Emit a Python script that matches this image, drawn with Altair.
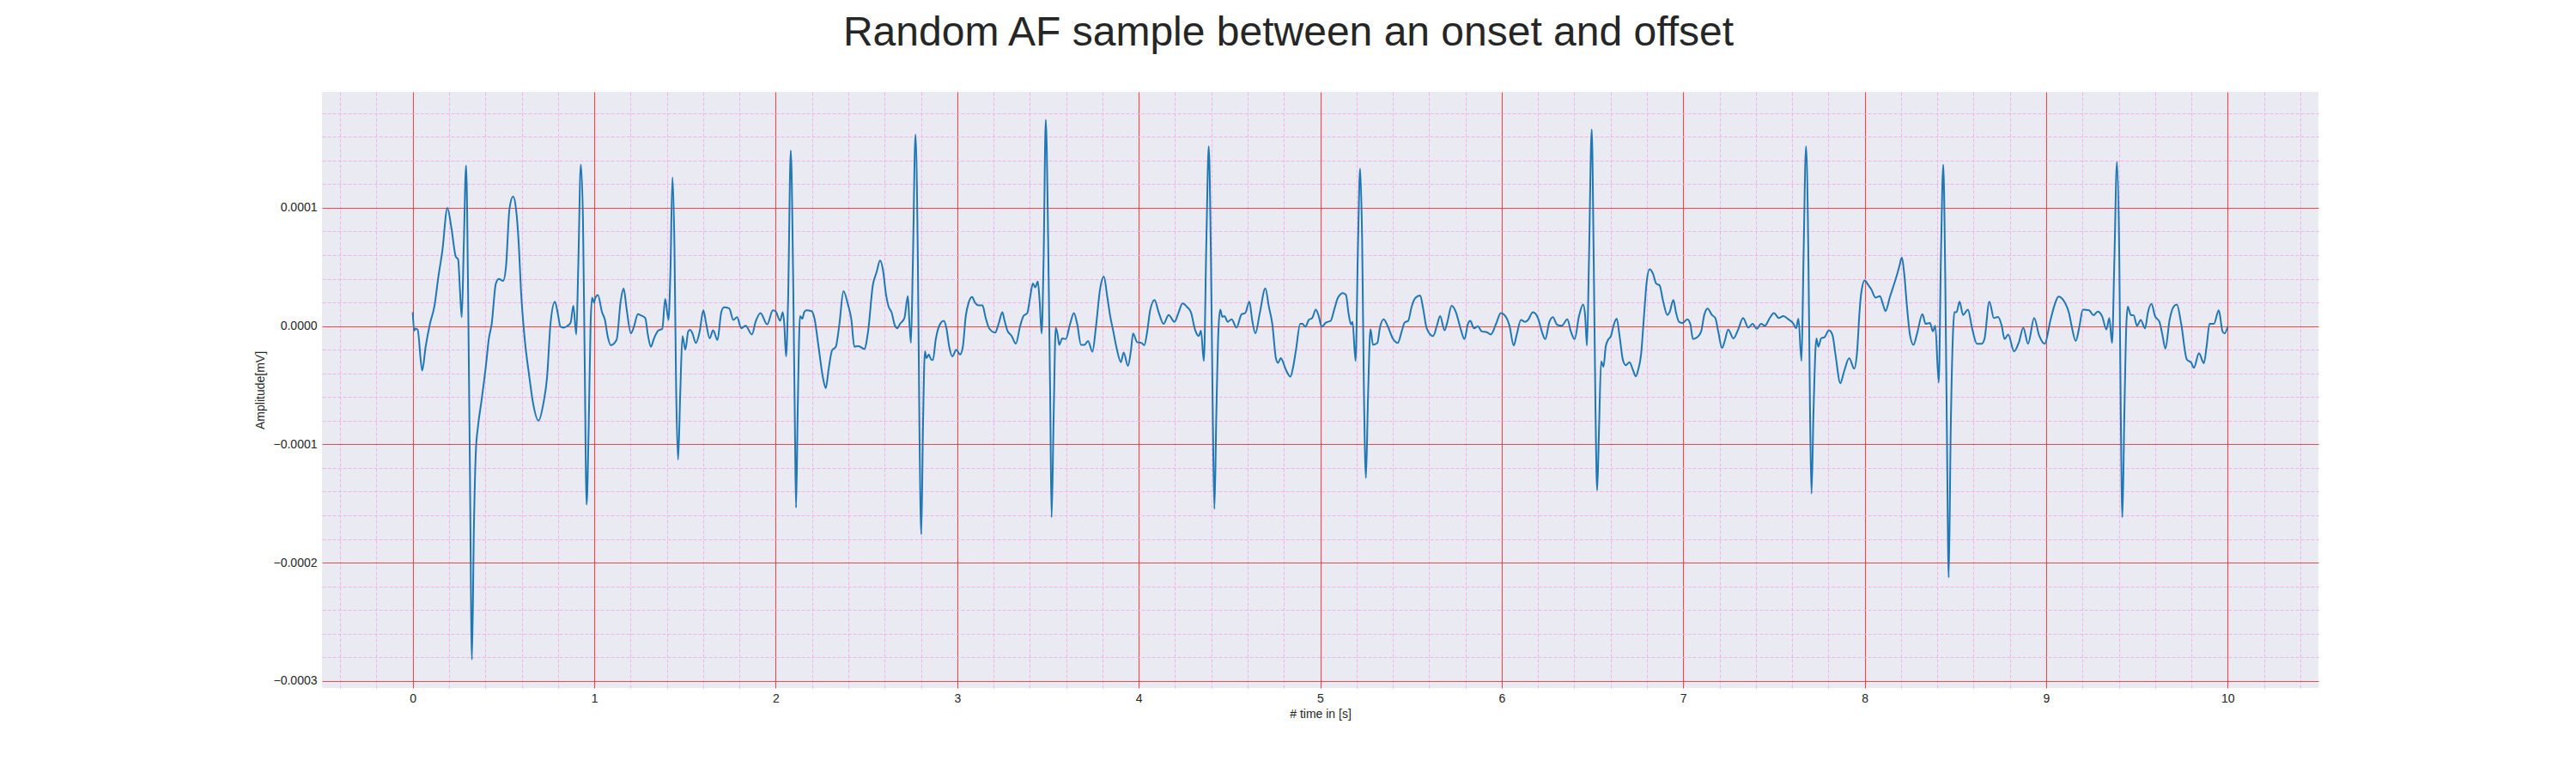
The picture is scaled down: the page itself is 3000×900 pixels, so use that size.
import altair as alt
import pandas as pd

# (time [s], amplitude in units of 1e-5 mV), two seconds per list
seg_0_2 = [
    (0.0, 1.17), (0.008, -0.39), (0.016, -0.2), (0.027, -0.3), (0.052, -3.76), (0.071, -1.75),
    (0.095, 0.2), (0.119, 1.65), (0.142, 4.25), (0.163, 6.35), (0.191, 10.0), (0.213, 8.3),
    (0.237, 5.87), (0.25, 5.64), (0.261, 2.79), (0.27, 0.75), (0.281, 6.68), (0.294, 13.58),
    (0.305, 2.8), (0.315, -12.1), (0.326, -28.2), (0.337, -17.0), (0.348, -10.5), (0.359, -8.56),
    (0.379, -6.29), (0.403, -3.37), (0.419, -1.1), (0.435, 0.19), (0.458, 3.6), (0.474, 3.99),
    (0.498, 3.82), (0.514, 5.06), (0.533, 9.92), (0.553, 10.96), (0.569, 9.92), (0.585, 6.68),
    (0.596, 3.11), (0.617, -1.1), (0.64, -4.02), (0.664, -6.61), (0.693, -8.0), (0.719, -6.61),
    (0.74, -4.34), (0.759, 0.19), (0.783, 2.07), (0.798, 1.17), (0.814, -0.06), (0.83, -0.13),
    (0.854, 0.03), (0.87, 0.29), (0.885, 1.72), (0.901, -0.71), (0.912, 5.06), (0.926, 13.65),
    (0.938, 8.95), (0.947, -2.4), (0.958, -15.1), (0.969, -8.88), (0.98, 0.19), (0.988, 2.4),
    (0.999, 1.98), (1.004, 2.3), (1.02, 2.63), (1.043, 1.17), (1.059, 0.52), (1.075, -0.94),
    (1.091, -1.62), (1.123, -1.17), (1.146, 2.14), (1.162, 3.18), (1.178, 1.49), (1.202, -0.62),
    (1.217, -0.13), (1.241, 1.0), (1.257, 0.91), (1.281, 0.68), (1.296, -0.78), (1.312, -1.75),
    (1.328, -1.1), (1.352, -0.39), (1.375, -0.23), (1.391, 2.3), (1.409, 0.52), (1.42, 4.73),
    (1.431, 12.58), (1.442, 6.68), (1.451, -4.99), (1.462, -11.3), (1.474, -5.64), (1.486, -0.84),
    (1.502, -2.0), (1.518, -0.45), (1.529, -0.32), (1.541, -0.62), (1.56, -1.43), (1.581, -0.45),
    (1.601, 1.33), (1.617, 0.19), (1.636, -1.04), (1.655, -0.36), (1.679, -1.17), (1.7, 1.17),
    (1.715, 1.59), (1.744, 1.49), (1.766, 0.52), (1.787, 0.75), (1.81, -0.19), (1.834, 0.03),
    (1.869, -0.71), (1.889, 0.36), (1.916, 1.1), (1.953, 0.13), (1.984, 1.33),
]
seg_2_4 = [
    (2.0, 1.23), (2.024, 0.45), (2.039, 1.17), (2.047, 0.2), (2.057, -2.56), (2.068, 2.14),
    (2.083, 14.85), (2.096, 4.08), (2.106, -8.88), (2.112, -15.36), (2.121, -7.26), (2.134, 0.84),
    (2.146, 0.62), (2.157, 1.17), (2.169, 1.33), (2.197, 1.26), (2.213, 0.68), (2.236, -1.75),
    (2.26, -4.34), (2.276, -5.25), (2.291, -3.7), (2.31, -2.07), (2.331, -1.75), (2.351, 0.19),
    (2.373, 2.95), (2.398, 1.82), (2.417, 0.52), (2.433, -1.75), (2.457, -1.69), (2.488, -1.94),
    (2.509, -0.45), (2.535, 3.44), (2.556, 4.57), (2.575, 5.54), (2.591, 4.73), (2.608, 2.63),
    (2.622, 1.65), (2.638, 1.17), (2.657, 0.03), (2.669, -0.19), (2.685, 0.19), (2.709, 0.68),
    (2.728, 2.53), (2.737, 0.19), (2.745, -1.43), (2.756, 5.7), (2.77, 16.2), (2.783, 5.7),
    (2.792, -8.88), (2.802, -17.6), (2.811, -8.88), (2.822, -2.14), (2.831, -2.72), (2.843, -2.4),
    (2.855, -2.79), (2.866, -2.88), (2.882, -1.1), (2.901, 0.03), (2.926, 0.45), (2.94, -0.13),
    (2.956, -1.75), (2.973, -2.56), (2.995, -2.0), (3.016, -2.4), (3.031, -1.75), (3.047, 0.84),
    (3.063, 1.98), (3.082, 2.46), (3.098, 1.98), (3.118, 1.75), (3.139, 1.75), (3.157, 0.68),
    (3.176, -0.19), (3.209, -0.55), (3.228, 0.19), (3.249, 1.17), (3.26, 0.52), (3.276, -0.36),
    (3.3, -0.84), (3.323, -1.49), (3.347, 0.03), (3.365, 0.84), (3.386, 1.1), (3.402, 2.46),
    (3.417, 3.6), (3.43, 3.27), (3.444, 3.76), (3.454, 2.14), (3.465, -0.62), (3.476, 5.7),
    (3.488, 17.44), (3.501, 7.33), (3.512, -5.64), (3.52, -16.17), (3.531, -7.9), (3.543, -0.13),
    (3.554, -0.78), (3.562, -1.59), (3.579, -1.04), (3.598, -1.1), (3.622, 0.19), (3.643, 1.1),
    (3.661, 0.19), (3.682, -1.59), (3.701, -1.59), (3.721, -1.26), (3.745, -2.17), (3.764, -0.13),
    (3.787, 3.11), (3.808, 4.18), (3.827, 2.46), (3.843, 0.84), (3.858, -0.29), (3.879, -1.91),
    (3.902, -3.05), (3.917, -2.24), (3.941, -3.37), (3.957, -2.07), (3.969, -0.62), (3.991, -1.36),
]
seg_4_6 = [
    (4.016, -1.43), (4.031, -1.62), (4.047, -0.45), (4.063, 1.33), (4.087, 2.2), (4.11, 1.17),
    (4.137, 0.19), (4.165, 0.94), (4.197, 0.36), (4.22, 1.17), (4.241, 1.91), (4.268, 1.59),
    (4.288, 1.17), (4.31, -0.29), (4.331, -0.84), (4.343, -0.39), (4.359, -2.95), (4.373, 7.33),
    (4.386, 15.2), (4.398, 5.7), (4.408, -7.26), (4.417, -15.46), (4.428, -7.26), (4.439, -0.45),
    (4.449, 1.39), (4.461, 0.78), (4.472, 0.84), (4.491, 0.36), (4.512, 0.58), (4.539, -0.13),
    (4.567, 1.0), (4.587, 1.1), (4.61, 2.07), (4.625, 0.52), (4.643, -0.62), (4.666, 1.0),
    (4.698, 3.18), (4.717, 1.65), (4.736, 0.19), (4.756, -2.72), (4.767, -3.11), (4.783, -2.72),
    (4.811, -3.7), (4.836, -4.28), (4.85, -3.53), (4.866, -2.07), (4.89, 0.19), (4.902, 0.19),
    (4.918, -0.06), (4.937, 0.52), (4.956, 0.68), (4.976, 1.39), (4.992, 0.84), (5.008, -0.06),
    (5.031, 0.29), (5.058, 0.45), (5.079, 1.49), (5.098, 2.4), (5.126, 2.79), (5.142, 2.63),
    (5.157, 1.0), (5.17, 0.13), (5.178, 0.36), (5.195, -2.95), (5.208, 6.68), (5.22, 13.32),
    (5.231, 7.33), (5.241, -5.64), (5.252, -12.84), (5.263, -6.29), (5.277, -0.26), (5.291, -1.59),
    (5.315, -1.43), (5.329, -0.13), (5.35, 0.58), (5.371, 0.03), (5.402, -1.1), (5.428, -1.43),
    (5.449, -0.45), (5.465, 0.29), (5.485, 0.45), (5.504, 1.65), (5.524, 2.37), (5.551, 2.59),
    (5.567, 1.49), (5.587, -0.19), (5.622, -0.84), (5.643, 0.03), (5.661, 0.84), (5.685, -0.36),
    (5.701, 0.36), (5.724, 1.72), (5.748, 1.17), (5.772, -0.13), (5.795, -1.1), (5.814, 0.19),
    (5.827, 0.45), (5.847, -0.19), (5.869, -0.03), (5.89, -0.45), (5.918, -0.52), (5.94, -0.71),
    (5.969, 0.19), (5.995, 1.1),
]
seg_6_8 = [
    (6.027, 0.68), (6.043, 0.03), (6.066, -1.65), (6.082, -0.78), (6.106, 0.52), (6.129, 0.36),
    (6.145, 0.52), (6.172, 1.17), (6.2, 0.68), (6.221, -0.45), (6.24, -1.1), (6.263, 0.36),
    (6.282, 0.75), (6.306, 0.1), (6.331, 0.03), (6.362, 0.58), (6.381, -0.45), (6.402, -1.1),
    (6.426, 0.84), (6.449, 1.82), (6.46, 0.84), (6.47, -1.65), (6.481, 5.7), (6.496, 16.63),
    (6.507, 5.7), (6.517, -7.26), (6.526, -13.9), (6.536, -8.88), (6.548, -2.98), (6.561, -3.44),
    (6.573, -1.75), (6.586, -1.17), (6.602, -0.84), (6.618, 0.13), (6.634, 0.62), (6.649, -0.78),
    (6.668, -2.88), (6.684, -3.31), (6.704, -3.05), (6.723, -3.7), (6.739, -4.25), (6.752, -3.7),
    (6.768, -2.4), (6.784, 0.84), (6.799, 3.76), (6.815, 4.8), (6.834, 4.41), (6.851, 3.6),
    (6.87, 3.44), (6.889, 2.14), (6.913, 0.94), (6.925, 1.17), (6.946, 2.2), (6.96, 1.17),
    (6.977, 0.36), (6.996, 0.26), (7.023, 0.58), (7.039, 0.19), (7.054, -1.1), (7.078, -0.94),
    (7.099, -0.45), (7.117, 1.0), (7.135, 1.49), (7.158, 0.94), (7.177, 0.68), (7.193, -0.45),
    (7.214, -1.85), (7.229, -1.26), (7.248, -0.29), (7.277, -1.04), (7.303, -0.29), (7.33, 0.68),
    (7.359, -0.13), (7.382, 0.19), (7.406, -0.23), (7.429, 0.19), (7.45, 0.03), (7.477, 0.68),
    (7.5, 1.1), (7.527, 0.68), (7.552, 0.84), (7.579, 0.58), (7.608, 0.19), (7.622, -0.19),
    (7.635, 0.62), (7.652, -2.95), (7.663, 5.7), (7.677, 15.2), (7.69, 5.7), (7.699, -7.26),
    (7.707, -14.17), (7.718, -7.26), (7.734, -1.04), (7.745, -1.75), (7.76, -1.04), (7.779, -0.94),
    (7.803, -0.36), (7.823, -0.78), (7.839, -2.4), (7.866, -4.83), (7.886, -3.86), (7.915, -2.72),
    (7.942, -3.6), (7.957, -2.4), (7.973, 1.49),
]
seg_8_10 = [
    (7.981, 2.79), (8.0, 3.86), (8.021, 3.44), (8.036, 3.11), (8.06, 2.4), (8.084, 2.53),
    (8.1, 1.88), (8.115, 1.26), (8.139, 2.46), (8.175, 4.18), (8.191, 5.06), (8.205, 5.8),
    (8.218, 4.41), (8.234, 1.49), (8.25, -0.78), (8.269, -1.59), (8.289, -0.62), (8.318, 1.0),
    (8.336, 0.19), (8.36, 0.26), (8.376, -0.45), (8.389, 0.03), (8.408, -4.77), (8.42, 5.7),
    (8.433, 13.65), (8.444, 4.08), (8.453, -8.88), (8.463, -21.26), (8.474, -8.88), (8.487, -0.45),
    (8.494, 1.17), (8.506, 1.17), (8.523, 2.07), (8.542, 0.94), (8.569, 1.39), (8.592, -0.19),
    (8.618, -1.49), (8.645, -1.49), (8.66, -1.1), (8.687, 2.07), (8.712, 0.68), (8.735, 0.78),
    (8.755, 0.03), (8.771, -1.1), (8.791, -0.71), (8.823, -2.14), (8.85, -1.36), (8.874, -0.13),
    (8.9, -1.49), (8.934, 0.68), (8.961, -0.78), (8.992, -1.49), (9.024, 0.52), (9.047, 1.82),
    (9.068, 2.5), (9.103, 1.98), (9.126, 1.1), (9.142, -0.13), (9.163, -1.26), (9.182, -0.13),
    (9.202, 1.39), (9.237, 1.33), (9.261, 0.91), (9.284, 1.23), (9.308, 0.84), (9.332, -0.29),
    (9.348, 0.68), (9.363, -1.43), (9.376, 5.7), (9.39, 13.87), (9.403, 5.7), (9.411, -7.26),
    (9.42, -16.17), (9.431, -7.26), (9.442, 0.19), (9.45, 1.65), (9.466, 0.94), (9.482, 0.91),
    (9.501, 0.03), (9.521, 0.52), (9.545, -0.19), (9.561, 1.17), (9.58, 1.88), (9.6, 0.84),
    (9.624, 0.36), (9.641, -0.78), (9.657, -1.91), (9.68, 0.52), (9.703, 1.65), (9.72, 1.82),
    (9.744, 0.19), (9.775, -2.82), (9.8, -3.11), (9.814, -3.53), (9.842, -2.3), (9.869, -3.14),
    (9.885, -1.59), (9.9, 0.19), (9.924, 0.19), (9.951, 1.33), (9.972, -0.45), (9.983, -0.62),
    (10.0, -0.06),
]

x_major = list(range(0, 11))
y_major = [-0.0003, -0.0002, -0.0001, 0.0, 0.0001]
x_minor = [k / 5 for k in range(-2, 53) if k % 5 != 0]
y_minor = [round(k * 2e-5, 6) for k in range(-15, 10) if k % 5 != 0]

points = seg_0_2 + seg_2_4 + seg_4_6 + seg_6_8 + seg_8_10
df = pd.DataFrame(points, columns=["t", "amp"])
df["amp"] = df["amp"] * 1e-5

x_scale = alt.Scale(domain=[-0.5, 10.5], nice=False, zero=False)
y_scale = alt.Scale(domain=[-0.000306, 0.000198], nice=False, zero=False)

# minor grid (dashed pink), drawn from an invisible copy of the line
minor = alt.Chart(df).mark_line(opacity=0).encode(
    x=alt.X("t:Q", scale=x_scale, axis=alt.Axis(
        orient="bottom", values=x_minor, grid=True, gridColor="#f0b3ec", gridDash=[4, 2],
        gridWidth=1, labels=False, ticks=False, domain=False, title=None)),
    y=alt.Y("amp:Q", scale=y_scale, axis=alt.Axis(
        orient="left", values=y_minor, grid=True, gridColor="#f0b3ec", gridDash=[4, 2],
        gridWidth=1, labels=False, ticks=False, domain=False, title=None)),
)

signal = alt.Chart(df).mark_line(color="#1f77b4", strokeWidth=2, interpolate="monotone").encode(
    x=alt.X("t:Q", scale=x_scale, axis=alt.Axis(
        orient="bottom", values=x_major, grid=True, gridColor="#f5474a", gridWidth=1.1,
        format="d", labelPadding=5, title="# time in [s]", titlePadding=4)),
    y=alt.Y("amp:Q", scale=y_scale, axis=alt.Axis(
        orient="left", values=y_major, grid=True, gridColor="#f5474a", gridWidth=1.1,
        format=".4f", labelPadding=6, title="Amplitude[mV]", titlePadding=8)),
)

chart = alt.layer(minor, signal).resolve_axis(
    x="independent", y="independent"
).properties(
    width=2325,
    height=694,
    autosize=alt.AutoSizeParams(type="none"),
    padding={"left": 367, "top": 99, "right": 290, "bottom": 90},
    title=alt.TitleParams(
        "Random AF sample between an onset and offset",
        fontSize=48, font="Liberation Sans", fontWeight="normal", color="#262626",
        anchor="middle", baseline="alphabetic", offset=6, dx=-37),
).configure_view(
    fill="#eaeaf2", strokeWidth=0
).configure_axis(
    labelFont="Liberation Sans", labelFontSize=14, labelColor="#262626",
    titleFont="Liberation Sans", titleFontSize=14, titleFontWeight="normal", titleColor="#262626",
    domain=False, ticks=False, tickSize=0,
)

chart.save("out.html", embed_options={"renderer": "svg", "actions": False})
